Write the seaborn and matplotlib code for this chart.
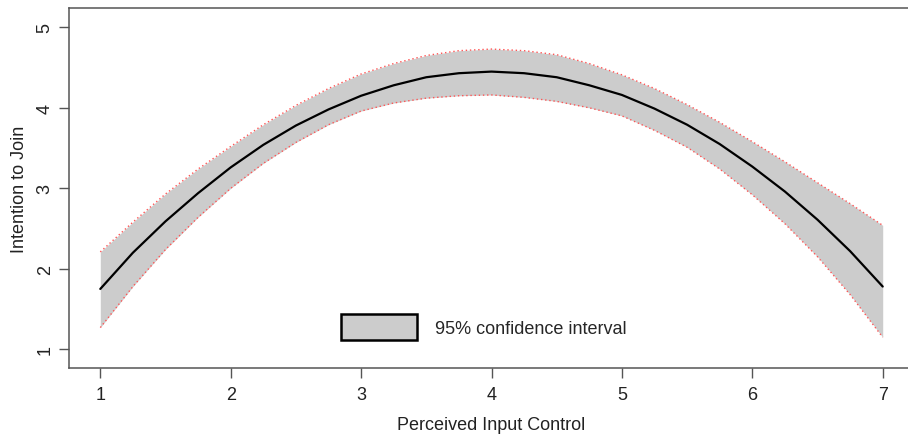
import seaborn as sns
import pandas as pd
import matplotlib.pyplot as plt
from matplotlib.patches import Patch

# values
x_vals = [1.0, 1.25, 1.5, 1.75, 2.0, 2.25, 2.5, 2.75, 3.0, 3.25, 3.5, 3.75, 4.0,
          4.25, 4.5, 4.75, 5.0, 5.25, 5.5, 5.75, 6.0, 6.25, 6.5, 6.75, 7.0]
fit = [1.75, 2.20, 2.59, 2.94, 3.26, 3.54, 3.78, 3.98, 4.15, 4.28, 4.38, 4.43, 4.45,
       4.43, 4.38, 4.28, 4.16, 3.99, 3.79, 3.55, 3.27, 2.96, 2.61, 2.22, 1.78]
upper = [2.21, 2.58, 2.93, 3.24, 3.52, 3.79, 4.03, 4.24, 4.42, 4.55, 4.65, 4.71, 4.73,
         4.71, 4.66, 4.55, 4.41, 4.24, 4.04, 3.82, 3.58, 3.33, 3.07, 2.81, 2.54]
lower = [1.27, 1.78, 2.24, 2.64, 3.00, 3.31, 3.57, 3.79, 3.96, 4.06, 4.12, 4.15, 4.16,
         4.13, 4.08, 4.00, 3.90, 3.72, 3.51, 3.24, 2.92, 2.56, 2.15, 1.68, 1.15]
x_ticks = [1, 2, 3, 4, 5, 6, 7]
y_ticks = [1, 2, 3, 4, 5]

df = pd.DataFrame({'x': x_vals, 'fit': fit, 'upper': upper, 'lower': lower})

sns.set_style("ticks")
plt.rcParams['font.family'] = ['Liberation Sans', 'DejaVu Sans']

fig = plt.figure(figsize=(9.08, 4.35), dpi=100)
ax = fig.add_axes([69 / 908, 66 / 435, (914 - 69) / 908, 360 / 435])

# confidence band
ax.fill_between(df['x'], df['lower'], df['upper'], color='#cccccc', linewidth=0)
sns.lineplot(data=df, x='x', y='upper', ax=ax, color='#ff5555', linestyle=(0, (1, 2)), linewidth=1)
sns.lineplot(data=df, x='x', y='lower', ax=ax, color='#ff5555', linestyle=(0, (1, 2)), linewidth=1)
sns.lineplot(data=df, x='x', y='fit', ax=ax, color='black', linewidth=1.6)

ax.set_xlim(0.76, 7.24)
ax.set_ylim(0.768, 5.24)
ax.set_xticks(x_ticks)
ax.set_yticks(y_ticks)
ax.set_xticklabels([str(t) for t in x_ticks])
ax.set_yticklabels([str(t) for t in y_ticks])
for lbl in ax.get_yticklabels():
    lbl.set_rotation(90)
    lbl.set_va('center')
    lbl.set_ha('right')

ax.tick_params(axis='both', length=7, width=1, color='#555555', labelsize=13,
               labelcolor='#222222', pad=4)
ax.tick_params(axis='x', pad=6)
for side in ['left', 'top', 'bottom', 'right']:
    ax.spines[side].set_color('#555555')
    ax.spines[side].set_linewidth(1.1)

ax.set_xlabel('Perceived Input Control', fontsize=13, color='#222222', labelpad=9)
ax.set_ylabel('Intention to Join', fontsize=13, color='#222222', labelpad=6)

ax.legend(handles=[Patch(facecolor='#cccccc', edgecolor='black', linewidth=1.8)],
          labels=['95% confidence interval'], loc='center left',
          bbox_to_anchor=(341 / 908, 107 / 435), bbox_transform=fig.transFigure,
          frameon=False, fontsize=13, handlelength=76 / 18, handleheight=34 / 18,
          handletextpad=1.0, borderpad=0, borderaxespad=0)

fig.savefig('out.png', dpi=100)
